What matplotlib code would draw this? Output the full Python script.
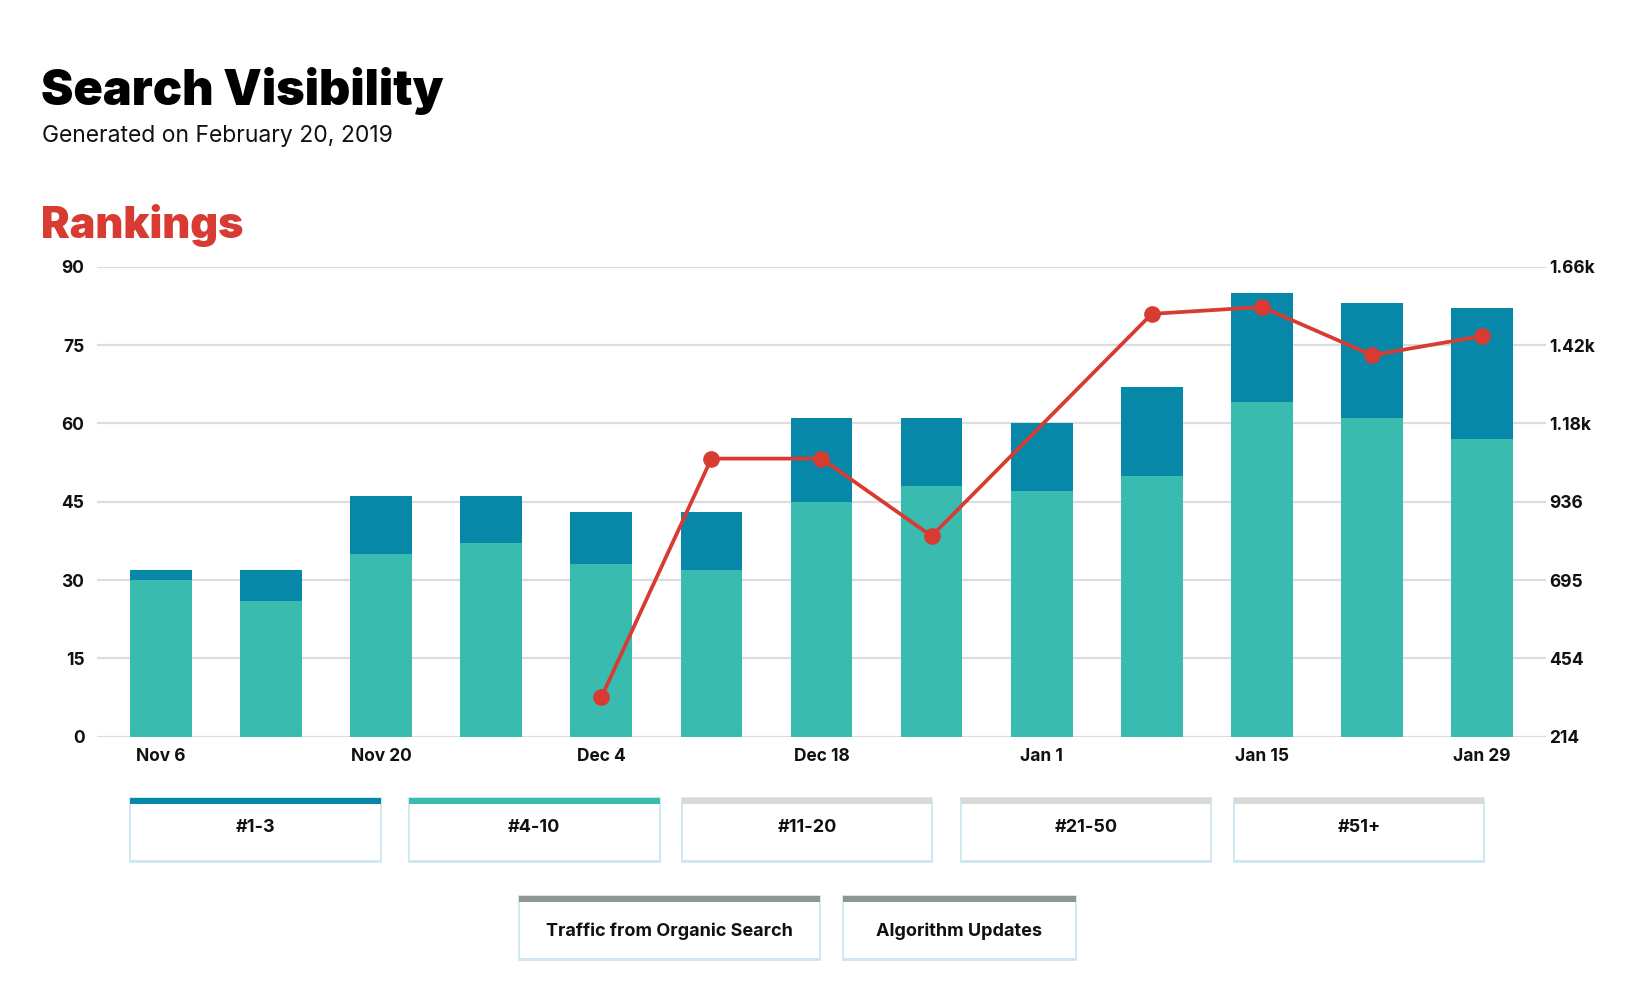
import numpy as np
import matplotlib
matplotlib.use("Agg")
from matplotlib import pyplot as plt
from matplotlib.patches import Rectangle

# data
weeks = ["Nov 6", "Nov 13", "Nov 20", "Nov 27", "Dec 4", "Dec 11", "Dec 18",
         "Dec 25", "Jan 1", "Jan 8", "Jan 15", "Jan 22", "Jan 29"]
rank_4_10 = [30, 26, 35, 37, 33, 32, 45, 48, 47, 50, 64, 61, 57]
rank_1_3 = [2, 6, 11, 9, 10, 11, 16, 13, 13, 17, 21, 22, 25]
traffic = [np.nan, np.nan, np.nan, np.nan, 335, 1069, 1069, 831, np.nan, 1514, 1535, 1387, 1446]
left_ticks = [0, 15, 30, 45, 60, 75, 90]
right_ticks = [214, 454, 695, 936, 1177, 1418, 1659]
right_labels = ["214", "454", "695", "936", "1.18k", "1.42k", "1.66k"]
legend_row1 = ["#1-3", "#4-10", "#11-20", "#21-50", "#51+"]
legend_row2 = ["Traffic from Organic Search", "Algorithm Updates"]

DARK = "#0788a8"
TEAL = "#39bbb0"
RED = "#d83b32"
GRID = "#dcdcdc"
BORDER = "#cfe7f1"

plt.rcParams["font.family"] = ["Inter", "DejaVu Sans"]

W, H = 1648, 993
fig = plt.figure(figsize=(W / 100, H / 100), dpi=100)
fig.patch.set_facecolor("white")

def fx(px):
    return px / W

def fy(py):
    return 1 - py / H

# titles
fig.text(fx(41), fy(105), "Search Visibility", fontsize=35, fontweight="black",
         color="black", va="baseline", ha="left")
fig.text(fx(42), fy(142), "Generated on February 20, 2019", fontsize=16.5,
         color="#111111", va="baseline", ha="left")
fig.text(fx(41), fy(238), "Rankings", fontsize=31, fontweight="black",
         color=RED, va="baseline", ha="left")

ax = fig.add_axes([fx(97), fy(736.7), fx(1546) - fx(97), fy(266.7) - fy(736.7)])
x = np.arange(len(weeks))
ax.bar(x, rank_4_10, width=0.56, color=TEAL, zorder=2)
ax.bar(x, rank_1_3, width=0.56, bottom=rank_4_10, color=DARK, zorder=2)

ax.set_xlim(-0.58, len(weeks) - 1 + 0.58)
ax.set_ylim(0, 90)
ax.set_yticks(left_ticks)
ax.yaxis.grid(True, color=GRID, linewidth=1.6, zorder=0)
ax.set_axisbelow(True)
for s in ax.spines.values():
    s.set_visible(False)
ax.set_xticks(x[::2])
ax.set_xticklabels(weeks[::2])
ax.tick_params(axis="both", length=0, labelsize=12.5, colors="#111111")
ax.tick_params(axis="y", pad=9)
ax.tick_params(axis="x", pad=8)
for lab in ax.get_xticklabels() + ax.get_yticklabels():
    lab.set_fontweight("bold")

ax2 = ax.twinx()
ax2.set_ylim(right_ticks[0], right_ticks[-1])
ax2.set_yticks(right_ticks)
ax2.set_yticklabels(right_labels)
ax2.tick_params(axis="y", length=0, labelsize=12.5, colors="#111111", pad=2)
for lab in ax2.get_yticklabels():
    lab.set_fontweight("bold")
for s in ax2.spines.values():
    s.set_visible(False)
tr = np.array(traffic, dtype=float)
ok = ~np.isnan(tr)
# Jan 1 has no point, the line just passes over it
ax2.plot(x[ok], tr[ok], color=RED, linewidth=2.7, marker="o", markersize=11,
         zorder=3)

# legend boxes
def legend_box(x0, x1, y0, y1, label, stripe, ty):
    fig.patches.append(Rectangle((fx(x0), fy(y1)), fx(x1 - x0), (y1 - y0) / H,
                                 transform=fig.transFigure, facecolor="white",
                                 edgecolor=BORDER, linewidth=1.3))
    fig.patches.append(Rectangle((fx(x0), fy(y1)), fx(x1 - x0), 2.5 / H,
                                 transform=fig.transFigure, facecolor=BORDER,
                                 edgecolor="none"))
    fig.patches.append(Rectangle((fx(x0), fy(y0 + 6)), fx(x1 - x0), 6 / H,
                                 transform=fig.transFigure, facecolor=stripe,
                                 edgecolor="none"))
    fig.text(fx((x0 + x1) / 2), fy(ty), label, fontsize=13,
             fontweight="bold", ha="center", va="center", color="#111111")

row1_x = [(130, 381), (409, 660), (682, 932), (961, 1211), (1234, 1484)]
row1_col = [DARK, TEAL, "#d9d9d9", "#d9d9d9", "#d9d9d9"]
for (a, b), lab, c in zip(row1_x, legend_row1, row1_col):
    legend_box(a, b, 798, 862, lab, c, 828)

row2_x = [(519, 820), (843, 1076)]
for (a, b), lab in zip(row2_x, legend_row2):
    legend_box(a, b, 896, 960, lab, "#8e9593", 931)

fig.savefig("out.png", dpi=100, facecolor="white")
